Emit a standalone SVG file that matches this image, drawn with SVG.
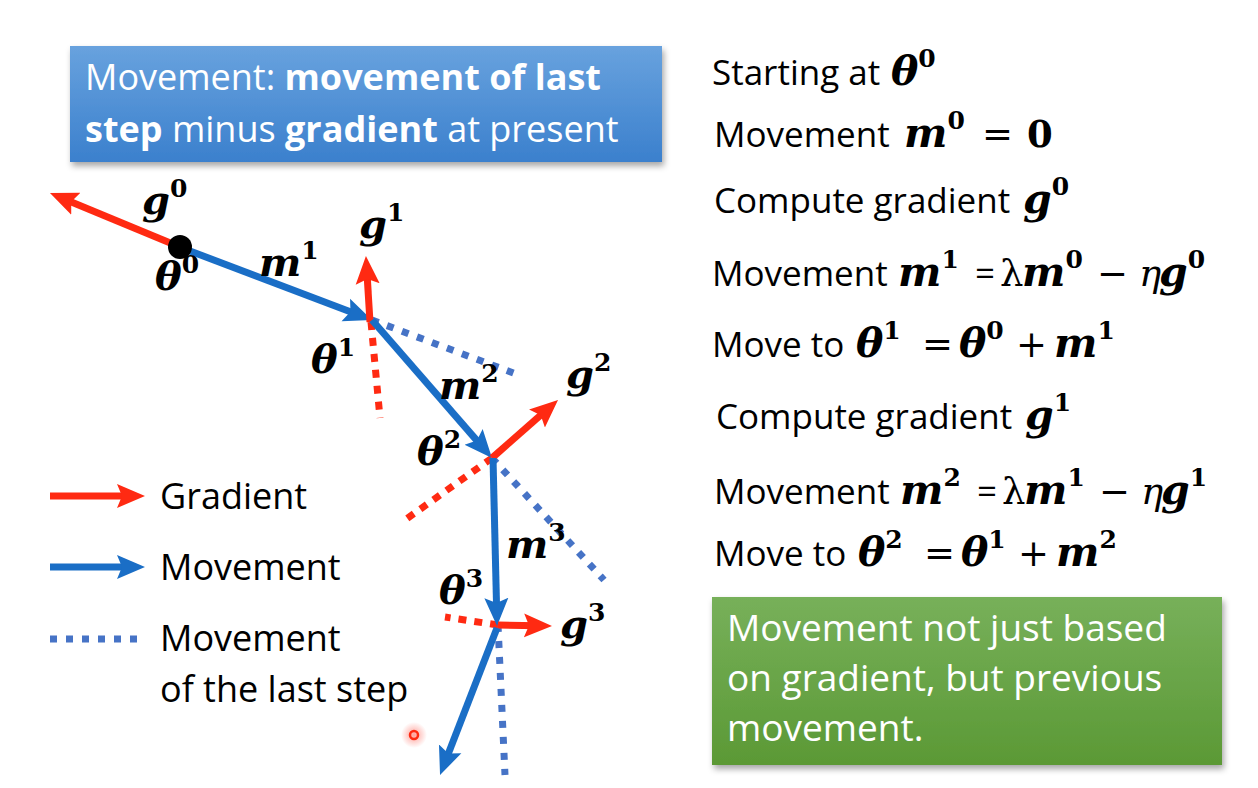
<svg xmlns="http://www.w3.org/2000/svg" width="1258" height="788" viewBox="0 0 1258 788">
<defs>
<style>
.t{font-family:"Open Sans","Liberation Sans",sans-serif;font-size:36px;fill:#000}
.s{font-size:35px}
.w{fill:#fff}
.b{font-weight:bold}
.mi{font-family:"DejaVu Serif","Liberation Serif",serif;font-weight:bold;font-style:italic;font-size:41px}
.li{font-family:"DejaVu Serif","Liberation Serif",serif;font-weight:bold;font-style:italic;font-size:40px}
.sup{font-family:"DejaVu Serif","Liberation Serif",serif;font-weight:bold;font-style:normal;font-size:25px}
.mo{font-family:"DejaVu Serif","Liberation Serif",serif;font-weight:normal;font-style:normal;font-size:37px}
.ml{font-family:"DejaVu Serif","Liberation Serif",serif;font-weight:normal;font-style:italic;font-size:37px}
.mb{font-family:"DejaVu Serif","Liberation Serif",serif;font-weight:bold;font-style:normal;font-size:37px}
.lbl{fill:#000}
.red{stroke:#ff2a12;stroke-width:7;fill:none}
.blue{stroke:#1a6ec6;stroke-width:7;fill:none}
.rdot{stroke:#ff2a12;stroke-width:7;stroke-dasharray:8 8;fill:none}
.bdot{stroke:#4673c6;stroke-width:7;stroke-dasharray:7 9;fill:none}
</style>
<marker id="ar" markerUnits="userSpaceOnUse" markerWidth="30" markerHeight="30" viewBox="0 0 30 30" refX="14" refY="15" orient="auto"><path d="M0,3 L28,15 L0,27 L5,15 z" fill="#ff2a12"/></marker>
<marker id="ab" markerUnits="userSpaceOnUse" markerWidth="30" markerHeight="30" viewBox="0 0 30 30" refX="14" refY="15" orient="auto"><path d="M0,3 L28,15 L0,27 L5,15 z" fill="#1a6ec6"/></marker>
<linearGradient id="gb" x1="0" y1="0" x2="0" y2="1"><stop offset="0" stop-color="#68a2de"/><stop offset="1" stop-color="#3b80cd"/></linearGradient>
<linearGradient id="gg" x1="0" y1="0" x2="0" y2="1"><stop offset="0" stop-color="#77b05a"/><stop offset="1" stop-color="#5b9935"/></linearGradient>
<filter id="sh" x="-5%" y="-10%" width="115%" height="130%"><feDropShadow dx="2" dy="4" stdDeviation="3" flood-color="#000" flood-opacity="0.35"/></filter>
<radialGradient id="glow"><stop offset="0" stop-color="#ff3020" stop-opacity="0.45"/><stop offset="1" stop-color="#ff3020" stop-opacity="0"/></radialGradient>
</defs>
<rect width="1258" height="788" fill="#fff"/>

<g id="box-blue">
<rect x="70" y="46" width="592" height="116" fill="url(#gb)" filter="url(#sh)"/>
<text class="t w" x="85" y="90">Movement: <tspan class="b">movement of last</tspan></text>
<text class="t w" x="85" y="142"><tspan class="b">step</tspan> minus <tspan class="b">gradient</tspan> at present</text>
</g>

<g id="connectors">
<line class="bdot" x1="372" y1="320" x2="516" y2="374"/>
<line class="rdot" x1="371" y1="322" x2="380" y2="418"/>
<line class="bdot" x1="492" y1="458" x2="604" y2="580"/>
<line class="rdot" x1="492" y1="458" x2="405" y2="520"/>
<line class="bdot" x1="498" y1="625" x2="505" y2="775"/>
<line class="rdot" x1="498" y1="625" x2="445" y2="617"/>
<line class="red" x1="180" y1="247" x2="62.9" y2="198.4" marker-end="url(#ar)"/>
<line class="blue" x1="190" y1="251" x2="358.9" y2="315" marker-end="url(#ab)"/>
<line class="red" x1="370" y1="322" x2="366.8" y2="270" marker-end="url(#ar)"/>
<line class="blue" x1="372" y1="320" x2="482.8" y2="447.4" marker-end="url(#ab)"/>
<line class="red" x1="492" y1="458" x2="547.5" y2="409.2" marker-end="url(#ar)"/>
<line class="blue" x1="493" y1="458" x2="496.7" y2="612" marker-end="url(#ab)"/>
<line class="red" x1="498" y1="625" x2="538" y2="625.7" marker-end="url(#ar)"/>
<line class="blue" x1="497" y1="628" x2="445.1" y2="762" marker-end="url(#ab)"/>
</g>

<g id="theta0"><circle cx="180" cy="247" r="12" fill="#000"/></g>

<g id="labels" class="lbl">
<text x="142" y="214"><tspan class="li">g</tspan><tspan class="sup" dy="-17">0</tspan></text>
<text x="155" y="290"><tspan class="li">θ</tspan><tspan class="sup" dy="-17">0</tspan></text>
<text x="259" y="276"><tspan class="li">m</tspan><tspan class="sup" dy="-17">1</tspan></text>
<text x="359" y="238"><tspan class="li">g</tspan><tspan class="sup" dy="-17">1</tspan></text>
<text x="311" y="373"><tspan class="li">θ</tspan><tspan class="sup" dy="-17">1</tspan></text>
<text x="439" y="399"><tspan class="li">m</tspan><tspan class="sup" dy="-17">2</tspan></text>
<text x="566" y="388"><tspan class="li">g</tspan><tspan class="sup" dy="-17">2</tspan></text>
<text x="417" y="465"><tspan class="li">θ</tspan><tspan class="sup" dy="-17">2</tspan></text>
<text x="506" y="558"><tspan class="li">m</tspan><tspan class="sup" dy="-17">3</tspan></text>
<text x="439" y="604"><tspan class="li">θ</tspan><tspan class="sup" dy="-17">3</tspan></text>
<text x="560" y="638"><tspan class="li">g</tspan><tspan class="sup" dy="-17">3</tspan></text>
</g>

<g id="legend">
<line class="red" x1="50" y1="496" x2="131" y2="496" marker-end="url(#ar)"/>
<text class="t" x="160" y="509">Gradient</text>
<line class="blue" x1="50" y1="567" x2="131" y2="567" marker-end="url(#ab)"/>
<text class="t" x="160" y="580">Movement</text>
<line class="bdot" x1="50" y1="639" x2="145" y2="639"/>
<text class="t" x="160" y="651">Movement</text>
<text class="t" x="160" y="702">of the last step</text>
</g>

<g id="pointer">
<circle cx="414" cy="735" r="13" fill="url(#glow)"/>
<circle cx="414" cy="735" r="4" fill="none" stroke="#ff2a12" stroke-width="2.5"/>
</g>

<g id="steps">
<text class="t s" x="712" y="85">Starting at <tspan class="mi" x="891">θ</tspan><tspan class="sup" dy="-18">0</tspan></text>
<text class="t s" x="714" y="147">Movement <tspan class="mi" x="904">m</tspan><tspan class="sup" dy="-18">0</tspan><tspan class="mo" x="982" dy="18">=</tspan><tspan class="mb" x="1027">0</tspan></text>
<text class="t s" x="714" y="213">Compute gradient <tspan class="mi" x="1023">g</tspan><tspan class="sup" dy="-18">0</tspan></text>
<text class="t s" x="712" y="286">Movement <tspan class="mi" x="898">m</tspan><tspan class="sup" dy="-18">1</tspan><tspan x="975" dy="18">=</tspan><tspan class="mo" x="1000">λ</tspan><tspan class="mi" x="1022">m</tspan><tspan class="sup" dy="-18">0</tspan><tspan class="mo" x="1097" dy="18">−</tspan><tspan class="ml" x="1139">η</tspan><tspan class="mi" x="1159">g</tspan><tspan class="sup" dy="-18">0</tspan></text>
<text class="t s" x="712" y="357">Move to <tspan class="mi" x="856">θ</tspan><tspan class="sup" dy="-18">1</tspan><tspan class="mo" x="922" dy="18">=</tspan><tspan class="mi" x="959">θ</tspan><tspan class="sup" dy="-18">0</tspan><tspan class="mo" x="1016" dy="18">+</tspan><tspan class="mi" x="1054">m</tspan><tspan class="sup" dy="-18">1</tspan></text>
<text class="t s" x="716" y="429">Compute gradient <tspan class="mi" x="1025">g</tspan><tspan class="sup" dy="-18">1</tspan></text>
<text class="t s" x="714" y="504">Movement <tspan class="mi" x="900">m</tspan><tspan class="sup" dy="-18">2</tspan><tspan x="977" dy="18">=</tspan><tspan class="mo" x="1002">λ</tspan><tspan class="mi" x="1024">m</tspan><tspan class="sup" dy="-18">1</tspan><tspan class="mo" x="1099" dy="18">−</tspan><tspan class="ml" x="1141">η</tspan><tspan class="mi" x="1161">g</tspan><tspan class="sup" dy="-18">1</tspan></text>
<text class="t s" x="714" y="566">Move to <tspan class="mi" x="858">θ</tspan><tspan class="sup" dy="-18">2</tspan><tspan class="mo" x="924" dy="18">=</tspan><tspan class="mi" x="961">θ</tspan><tspan class="sup" dy="-18">1</tspan><tspan class="mo" x="1018" dy="18">+</tspan><tspan class="mi" x="1056">m</tspan><tspan class="sup" dy="-18">2</tspan></text>
</g>

<g id="box-green">
<rect x="712" y="597" width="510" height="168" fill="url(#gg)" filter="url(#sh)"/>
<text class="t w" x="727" y="641" style="font-size:37px">Movement not just based</text>
<text class="t w" x="727" y="691" style="font-size:37px">on gradient, but previous</text>
<text class="t w" x="727" y="741" style="font-size:37px">movement.</text>
</g>
</svg>
